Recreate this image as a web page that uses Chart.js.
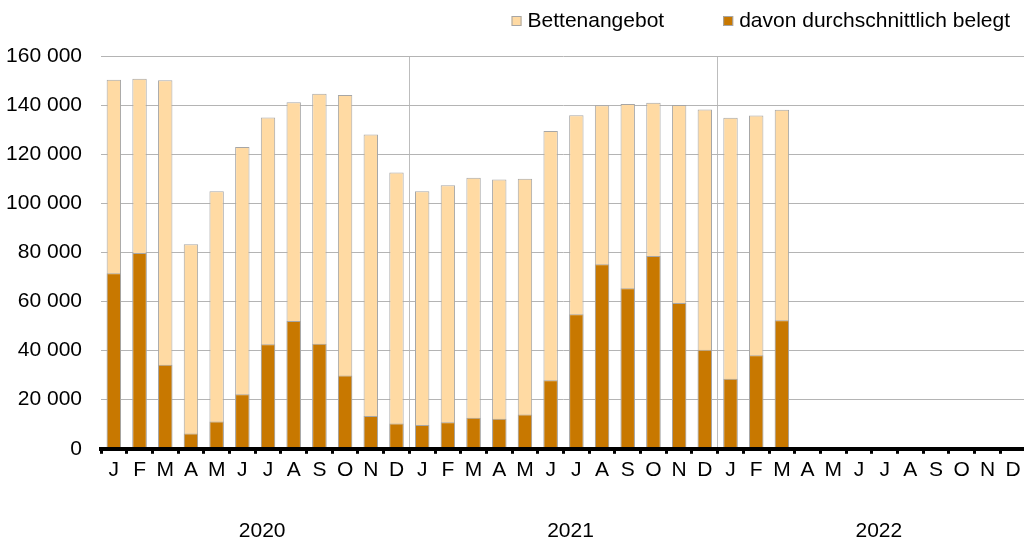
<!DOCTYPE html>
<html>
<head>
<meta charset="utf-8">
<script src="https://cdn.jsdelivr.net/npm/chart.js@4"></script>
<style>
  html, body { margin: 0; padding: 0; background: #fff; overflow: hidden; }
  #wrap { width: 1028px; height: 549px; }
</style>
</head>
<body>
<div id="wrap"><canvas id="bedsChart"></canvas></div>
<script>
const months = ['J','F','M','A','M','J','J','A','S','O','N','D',
                'J','F','M','A','M','J','J','A','S','O','N','D',
                'J','F','M','A','M','J','J','A','S','O','N','D'];
const years = ['2020', '2021', '2022'];

// Bettenangebot
const bedsOffered = [150300, 150700, 150100, 83300, 104900, 122900, 134900, 141200, 144600, 144100, 128000, 112500,
                     104900, 107400, 110400, 109700, 110000, 129500, 135900, 139900, 140400, 141000, 140000, 138200,
                     134800, 135800, 138100, null, null, null, null, null, null, null, null, null];
// davon durchschnittlich belegt
const bedsOccupied = [71500, 79800, 34200, 6200, 11100, 22200, 42600, 52100, 42800, 29900, 13400, 10300,
                      9700, 10800, 12600, 12200, 14000, 27900, 54800, 75200, 65400, 78500, 59400, 40300,
                      28500, 38100, 52400, null, null, null, null, null, null, null, null, null];

const yTicks = [0, 20000, 40000, 60000, 80000, 100000, 120000, 140000, 160000];

const fontFamily = '"Liberation Sans", Arial, sans-serif';
const fontSize = 21;

function formatNumber(v) {
  return String(v).replace(/\B(?=(\d{3})+(?!\d))/g, ' ');
}

// legend drawn by hand, top right
const legendPlugin = {
  id: 'topLegend',
  afterDraw(chart) {
    const ctx = chart.ctx;
    const items = chart.data.datasets;
    ctx.save();
    ctx.font = fontSize + 'px ' + fontFamily;
    ctx.textBaseline = 'middle';
    let x = 1010;
    const y = 21;
    for (let i = items.length - 1; i >= 0; i--) {
      const ds = items[i];
      const w = ctx.measureText(ds.label).width;
      x -= w;
      ctx.fillStyle = '#000';
      ctx.fillText(ds.label, x, y);
      x -= 16;
      ctx.fillStyle = ds.backgroundColor;
      ctx.fillRect(x, y - 5, 10, 10);
      ctx.strokeStyle = '#A6A6A6';
      ctx.lineWidth = 1;
      ctx.strokeRect(x + 0.5, y - 4.5, 9, 9);
      x -= 59;
    }
    ctx.restore();
  }
};

// year labels under the month ticks
const yearPlugin = {
  id: 'yearLabels',
  afterDraw(chart) {
    const ctx = chart.ctx;
    const xs = chart.scales.x;
    ctx.save();
    ctx.font = fontSize + 'px ' + fontFamily;
    ctx.fillStyle = '#000';
    ctx.textAlign = 'center';
    ctx.textBaseline = 'middle';
    years.forEach((yr, i) => {
      const a = xs.getPixelForValue(i * 12);
      const b = xs.getPixelForValue(i * 12 + 11);
      ctx.fillText(yr, (a + b) / 2 + 7, 531);
    });
    ctx.restore();
  }
};

const ctx = document.getElementById('bedsChart').getContext('2d');
const bedsChart = new Chart(ctx, {
  type: 'bar',
  data: {
    labels: months,
    datasets: [{
      label: 'Bettenangebot',
      data: bedsOffered,
      backgroundColor: '#FFDAA3',
      borderColor: '#A6A6A6',
      borderWidth: 1,
      order: 1
    }, {
      label: 'davon durchschnittlich belegt',
      data: bedsOccupied,
      backgroundColor: '#C87800',
      borderColor: '#A6A6A6',
      borderWidth: 1,
      order: 0
    }]
  },
  options: {
    responsive: true,
    maintainAspectRatio: false,
    animation: false,
    grouped: false,
    barPercentage: 0.56,
    categoryPercentage: 1,
    layout: { padding: { top: 56, right: 2, bottom: 62, left: 0 } },
    plugins: {
      legend: { display: false },
      tooltip: { enabled: false }
    },
    scales: {
      x: {
        grid: {
          offset: true,
          color: (c) => (c.index === 12 || c.index === 24) ? '#BDBDBD' : 'rgba(0,0,0,0)',
          lineWidth: 1,
          tickColor: '#000',
          tickWidth: 3,
          tickLength: 5
        },
        border: { display: true, color: '#000', width: 4, z: 1 },
        ticks: {
          color: '#000',
          font: { family: fontFamily, size: fontSize },
          padding: 4,
          maxRotation: 0,
          autoSkip: false
        }
      },
      y: {
        min: 0,
        max: 160000,
        afterBuildTicks: (scale) => { scale.ticks = yTicks.map(v => ({ value: v })); },
        afterFit: (scale) => { scale.width = 101; },
        grid: { color: '#B4B4B4', lineWidth: 1, drawTicks: false },
        border: { display: false },
        ticks: {
          color: '#000',
          font: { family: fontFamily, size: fontSize },
          padding: 19,
          callback: (v) => formatNumber(v)
        }
      }
    }
  },
  plugins: [legendPlugin, yearPlugin]
});
</script>
</body>
</html>
